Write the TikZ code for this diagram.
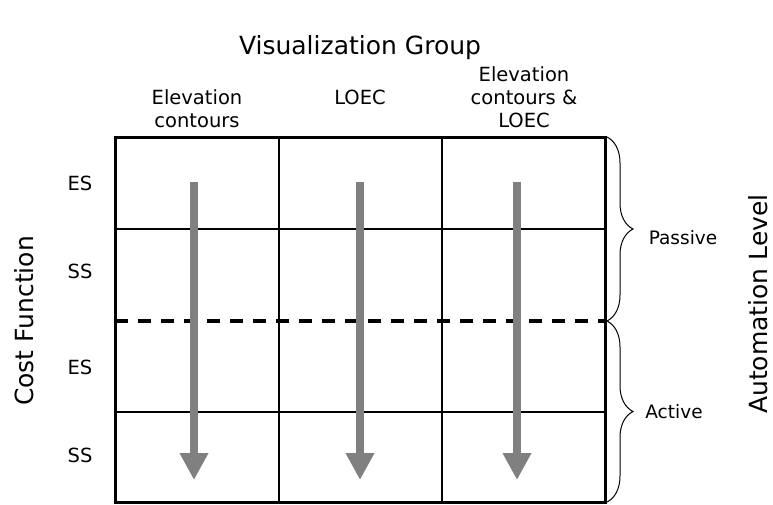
\documentclass[tikz,border=0pt]{standalone}
\usepackage{fontspec}
\setmainfont{DejaVu Sans}
\usetikzlibrary{arrows.meta,decorations.pathreplacing}
\definecolor{arrowgray}{HTML}{808080}
\begin{document}
\begin{tikzpicture}[x=1pt,y=-1pt,
  lbl/.style={font=\fontsize{19.5}{23}\selectfont, inner sep=0pt, align=center},
  sidelbl/.style={font=\fontsize{18.5}{22}\selectfont, inner sep=0pt},
  big/.style={font=\fontsize{25}{30}\selectfont, inner sep=0pt},
  gridline/.style={line width=1.2pt},
  border/.style={line width=3pt},
  divider/.style={line width=3.5pt, dash pattern=on 13pt off 10pt},
  flow/.style={line width=8pt, draw=arrowgray, -{Triangle[width=27pt,length=27pt]}},
  brc/.style={decorate, decoration={brace, amplitude=26pt}, line width=1pt}
]
\useasboundingbox (0,0) rectangle (773,504);

% grid corners
\coordinate (tl) at (115,137);
\coordinate (br) at (605,502);

% inner lines
\draw[gridline] (279,137) -- (279,502);
\draw[gridline] (442,137) -- (442,502);
\draw[gridline] (115,229) -- (605,229);
\draw[gridline] (115,412) -- (605,412);
\draw[divider] (115,321) -- (605,321);

% arrows
\coordinate (a1s) at (194,182); \coordinate (a1e) at (194,480);
\coordinate (a2s) at (360,182); \coordinate (a2e) at (360,480);
\coordinate (a3s) at (517,182); \coordinate (a3e) at (517,480);
\draw[flow] (a1s) -- (a1e);
\draw[flow] (a2s) -- (a2e);
\draw[flow] (a3s) -- (a3e);

% border
\draw[border] (tl) rectangle (br);

% braces
\coordinate (b1) at (607,137);
\coordinate (b2) at (607,321);
\coordinate (b3) at (607,502);
\draw[brc] (b1) -- (b2);
\draw[brc] (b2) -- (b3);

% texts
\node[big, anchor=base] (title) at (360,54) {Visualization Group};
\node[lbl, anchor=south] (h1) at (197,128) {Elevation\\contours};
\node[lbl, anchor=south] (h2) at (360,105) {LOEC};
\node[lbl, anchor=south] (h3) at (524,128) {Elevation\\contours \&\\LOEC};

\node[lbl, anchor=base] (r1) at (80,190) {ES};
\node[lbl, anchor=base] (r2) at (80,278) {SS};
\node[lbl, anchor=base] (r3) at (80,374) {ES};
\node[lbl, anchor=base] (r4) at (80,462) {SS};

\node[big, rotate=90] (cf) at (24,321) {Cost Function};
\node[big, rotate=90] (al) at (758,304) {Automation Level};

\node[sidelbl, anchor=base] (pas) at (683,244) {Passive};
\node[sidelbl, anchor=base] (act) at (674,418) {Active};
\end{tikzpicture}
\end{document}
